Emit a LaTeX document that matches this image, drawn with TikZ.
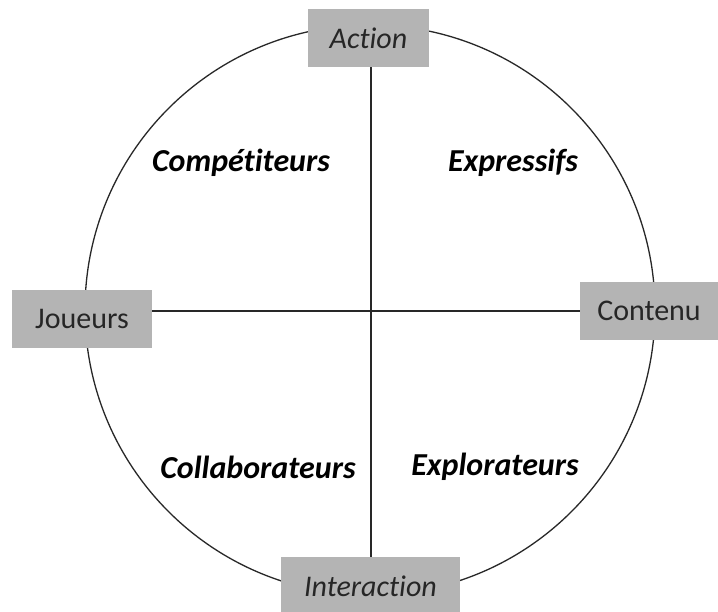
\documentclass[tikz,border=0pt]{standalone}
\usepackage{fontspec}
\setmainfont[Ligatures=CommonOff]{Carlito}
\definecolor{boxgray}{RGB}{180,180,180}
\definecolor{txt}{RGB}{38,38,38}
\definecolor{linec}{RGB}{40,40,40}
\begin{document}
\begin{tikzpicture}[x=1pt,y=-1pt,
  lbox/.style={fill=boxgray, draw=none, inner sep=0pt, minimum height=58pt, text=txt, font=\fontsize{30}{36}\selectfont},
  quad/.style={text=black, font=\fontsize{32}{38}\selectfont\bfseries\itshape},
  ln/.style={draw=linec, line width=1.3pt}]
\fill[white] (0,0) rectangle (718,612);
\useasboundingbox (0,0) rectangle (718,612);
\coordinate (c) at (371,311);
\coordinate (o) at (370,310);
\draw[ln] (o) circle[radius=285];
\node[lbox, minimum width=121pt, font=\fontsize{30}{36}\selectfont\itshape] (act) at (368.5,38) {Action};
\node[lbox, minimum width=140pt] (jou) at (82,319) {Joueurs};
\node[lbox, minimum width=138pt] (con) at (649,311) {Contenu};
\node[lbox, minimum width=179pt, font=\fontsize{30}{36}\selectfont\itshape] (int) at (370.5,586) {Interaction};
\draw[ln] (act.south -| c) -- (int.north -| c);
\draw[ln] (jou.east |- c) -- (con.west |- c);
\node[quad] (comp) at (241,163) {Compétiteurs};
\node[quad] (expr) at (513,163) {Expressifs};
\node[quad] (coll) at (258,467) {Collaborateurs};
\node[quad] (expl) at (495,467) {Explorateurs};
\end{tikzpicture}
\end{document}
